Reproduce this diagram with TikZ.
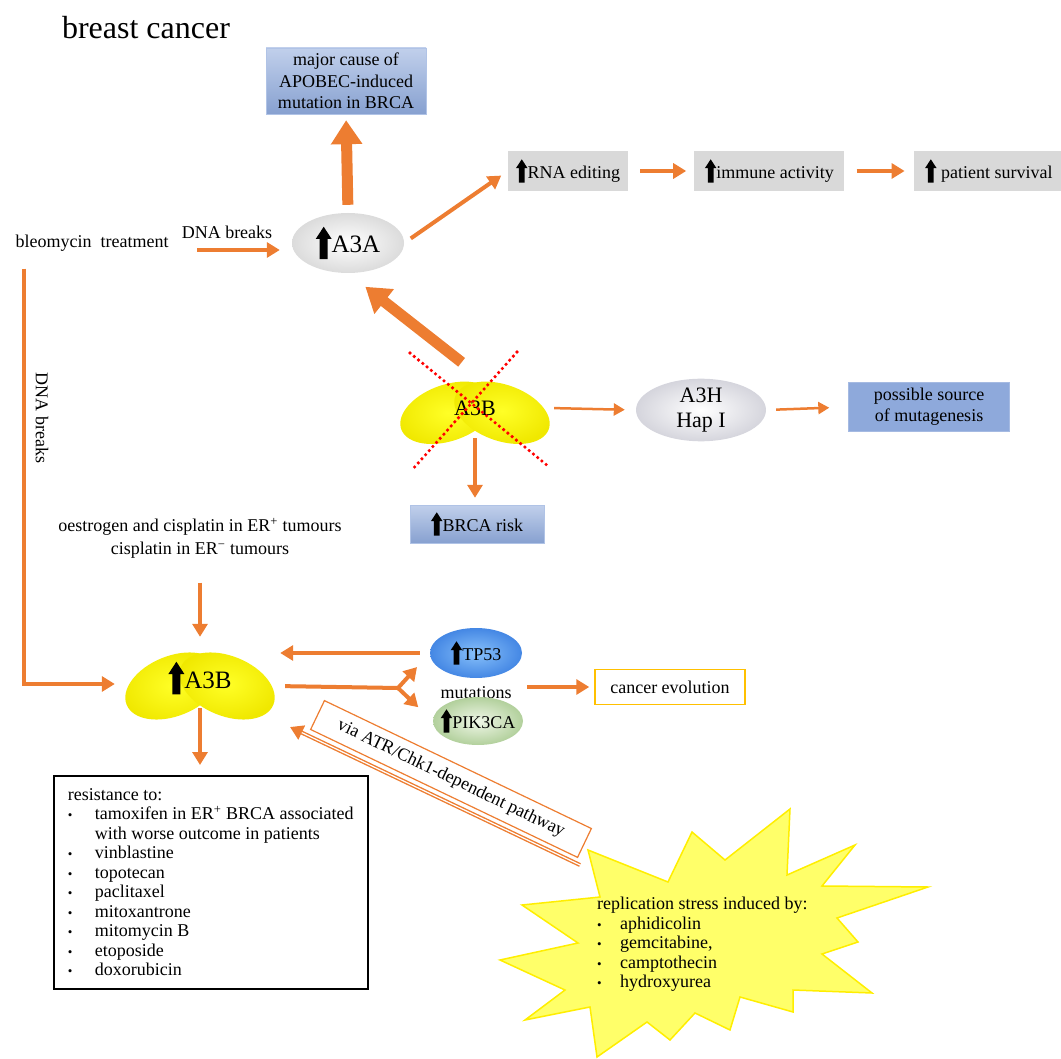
\documentclass[tikz,border=0pt]{standalone}
\usepackage{fontspec}
\setmainfont{Liberation Serif}
\usetikzlibrary{arrows.meta,shapes.geometric,positioning}
\definecolor{orng}{RGB}{237,125,49}
\definecolor{amber}{RGB}{255,192,0}
\definecolor{steel}{RGB}{142,169,219}
\definecolor{beanyel}{RGB}{240,232,0}
\newcommand{\enzfont}{\fontsize{25}{28}\selectfont}
\newcommand{\hapfont}{\fontsize{22}{25}\selectfont}
\newcommand{\listfont}{\fontsize{18}{19.5}\selectfont}
\newcommand{\upmark}{\tikz[baseline=0pt]\fill[black] (-0.16em,-0.25em) rectangle (0.16em,0.6em) (-0.32em,0.56em) -- (0,1.05em) -- (0.32em,0.56em) -- cycle;}
\newcommand{\bul}[1][27pt]{\makebox[#1][l]{\fontsize{13}{13}\selectfont\textbullet}}
\newcommand{\bean}[2]{%
  \begin{scope}[shift={#1},#2]
    \shade[inner color=yellow!85!white, outer color=beanyel, rotate around={22:(-27,-3)}] (-27,-3) ellipse [x radius=50, y radius=30];
    \shade[inner color=yellow!85!white, outer color=beanyel, rotate around={-22:(27,-3)}] (27,-3) ellipse [x radius=50, y radius=30];
  \end{scope}}
\tikzset{
  arr/.style={draw=orng, line width=4pt, -{Triangle[width=15pt,length=13pt]}},
  thin arr/.style={draw=orng, line width=2.5pt, -{Triangle[width=12pt,length=11pt]}},
  big arr/.style={draw=orng, line width=11pt, -{Triangle[width=30pt,length=24pt]}},
  gray box/.style={fill=gray!30, minimum height=40pt, inner sep=3pt},
  blue box/.style={fill=steel, draw=steel!80!white, align=center},
  bevel box/.style={top color=steel!55!white, bottom color=steel!95!black, draw=steel!70!white, align=center, inner sep=2pt},
  gray ell/.style={ellipse, inner sep=0pt, inner color=white, outer color=gray!28},
  bean node/.style={ellipse, inner sep=0pt},
  red dots/.style={draw=red, line width=3.6pt, line cap=round, dash pattern=on 0pt off 5.5pt},
}

\begin{document}
\begin{tikzpicture}[x=1pt,y=1pt,font=\fontsize{18}{21}\selectfont]
\useasboundingbox (0,0) rectangle (1061,-1059);

% upper part
\node[font=\fontsize{32}{36}\selectfont] (title) at (146,-28) {breast cancer};
\node[bevel box, minimum width=160pt, minimum height=66pt, font=\fontsize{18}{21.5}\selectfont] (cause) at (346,-81) {major cause of\\APOBEC-induced\\mutation in BRCA};
\node[gray ell, minimum width=112pt, minimum height=60pt, font=\enzfont] (A3A) at (348,-243) {\upmark A3A};
\node (bleo) at (92,-243) {bleomycin\ \ treatment};
\node (dna1) at (227,-232) {DNA breaks};
\node[gray box, minimum width=120pt] (rna) at (568,-171) {\upmark RNA editing};
\node[gray box, minimum width=150pt, right=66pt of rna] (immune) {\upmark immune activity};
\node[gray box, minimum width=150pt, right=69pt of immune] (surv) {\upmark\ patient survival};

\draw[big arr, shorten <=8pt, shorten >=6pt] (A3A.north) -- (cause.south);
\draw[arr, shorten <=25pt, shorten >=12pt] ([yshift=-7pt]bleo.east) -- ([yshift=-7pt]A3A.west);
\draw[arr, shorten <=8pt, shorten >=8pt] (A3A.east) -- (rna.west);
\draw[arr, shorten <=12pt, shorten >=8pt] (rna) -- (immune);
\draw[arr, shorten <=12pt, shorten >=9pt] (immune) -- (surv);

% A3B knock-out
\bean{(475,-410)}{yscale=0.93}
\node[bean node, minimum width=148pt, minimum height=70pt, font=\hapfont] (A3Bc) at (475,-408) {A3B};
\draw[red dots] (A3Bc) ++(-65,55) -- ++(138,-113);
\draw[red dots] (A3Bc) ++(42,56) -- ++(-105,-118);
\node[gray ell, outer color=blue!10!gray!30, minimum width=130pt, minimum height=60pt, align=center, font=\hapfont] (A3H) at (701,-410) {A3H\\Hap I};
\node[blue box, minimum width=161pt, minimum height=49pt] (source) at (929,-407) {possible source\\of mutagenesis};
\node[bevel box, minimum width=134pt, minimum height=38pt] (brca) at (477,-524) {\upmark BRCA risk};

\draw[big arr, shorten <=17pt, shorten >=22pt] (A3Bc.north) -- (A3A.south);
\draw[thin arr, shorten <=5pt, shorten >=11pt] (A3Bc.east) -- (A3H.west);
\draw[thin arr, shorten <=10pt, shorten >=19pt] (A3H.east) -- (source.west);
\draw[arr, shorten <=-5pt, shorten >=7pt] (A3Bc.south) -- (A3Bc.south |- brca.north);

% lower part
\node[align=center, font=\fontsize{18}{23}\selectfont] (estro) at (200,-538) {oestrogen and cisplatin in ER\textsuperscript{+} tumours\\cisplatin in ER\textsuperscript{−} tumours};
\bean{(200,-683)}{}
\node[bean node, minimum width=150pt, minimum height=78pt, font=\enzfont] (A3Bl) at (200,-678) {\upmark A3B};
\node[ellipse, inner sep=0pt, minimum width=92pt, minimum height=50pt, inner color={rgb,255:red,135;green,192;blue,250}, outer color={rgb,255:red,68;green,135;blue,228}] (TP53) at (476,-653) {\upmark TP53};
\node (mut) at (476,-693) {mutations};
\node[ellipse, inner sep=0pt, minimum width=90pt, minimum height=48pt, inner color={rgb,255:red,240;green,247;blue,232}, outer color={rgb,255:red,178;green,208;blue,156}] (PIK) at (478,-721) {\makebox[30pt]{\upmark PIK3CA}};
\node[draw=amber, line width=1.5pt, minimum width=150pt, minimum height=35pt] (evol) at (670,-687) {cancer evolution};
\node[rotate=-90] (dna2) at (42,-418) {DNA breaks};

\draw[arr, shorten <=21pt, shorten >=2pt] (estro.south) -- (A3Bl.north);
\draw[arr, shorten >=10pt] ([shift={(12pt,-14pt)}]bleo.south west) |- ([yshift=-6pt]A3Bl.west);
\draw[arr, shorten <=10pt, shorten >=5pt] (TP53.west) -- (TP53.west -| A3Bl.east);
\coordinate (fork) at (398,-688);
\draw[draw=orng, line width=4pt, shorten <=10pt] ([yshift=-8pt]A3Bl.east) -- (fork);
\draw[arr, shorten >=19pt] (fork) -- (TP53.west);
\draw[arr, shorten >=20pt] (fork) -- (PIK.west);
\draw[arr, shorten <=12pt, shorten >=5pt] (mut.east |- evol.west) -- (evol.west);

% resistance list
\node[draw, line width=1.5pt, anchor=north west, minimum width=314pt, minimum height=213pt, align=left, inner sep=9pt, font=\listfont] (resist) at (53,-775) {resistance to:\\
  \bul tamoxifen in ER\textsuperscript{+} BRCA associated\\
  \hspace*{27pt}with worse outcome in patients\\
  \bul vinblastine\\
  \bul topotecan\\
  \bul paclitaxel\\
  \bul mitoxantrone\\
  \bul mitomycin B\\
  \bul etoposide\\
  \bul doxorubicin};
\draw[arr, shorten <=-9pt, shorten >=10pt] (A3Bl.south) -- (resist.north -| A3Bl.south);

% replication stress
\filldraw[fill={rgb,255:red,255;green,255;blue,105}, draw={rgb,255:red,255;green,238;blue,0}, line width=1.5pt]
  (588,-850) -- (668,-882) -- (692,-832) -- (725,-860) -- (790,-809) -- (787,-875)
  -- (855,-845) -- (822,-886) -- (928,-887) -- (837,-918) -- (858,-942) -- (822,-954)
  -- (872,-993) -- (793,-990) -- (793,-1012) -- (740,-997) -- (730,-1030) -- (695,-1013)
  -- (670,-1040) -- (647,-1022) -- (597,-1057) -- (590,-1007) -- (525,-1020) -- (565,-990)
  -- (500,-960) -- (578,-943) -- (522,-905) -- (600,-897) -- cycle;
\node[anchor=north west, align=left, inner sep=0pt, font=\listfont] (stress) at (597,-897) {replication stress induced by:\\
  \bul[23pt]aphidicolin\\
  \bul[23pt]gemcitabine,\\
  \bul[23pt]camptothecin\\
  \bul[23pt]hydroxyurea};

\coordinate (atrtail) at (580,-865);
\coordinate (atrhead) at (290,-727);
\draw[arr] (atrtail) -- (atrhead);
\draw[white, line width=1.2pt, shorten >=13pt] (atrtail) -- (atrhead);
\node[draw=orng, line width=1.2pt, fill=white, rotate=-25.6, minimum width=296pt, minimum height=32pt] (atr) at (451,-779) {via ATR/Chk1-dependent pathway};
\end{tikzpicture}
\end{document}
